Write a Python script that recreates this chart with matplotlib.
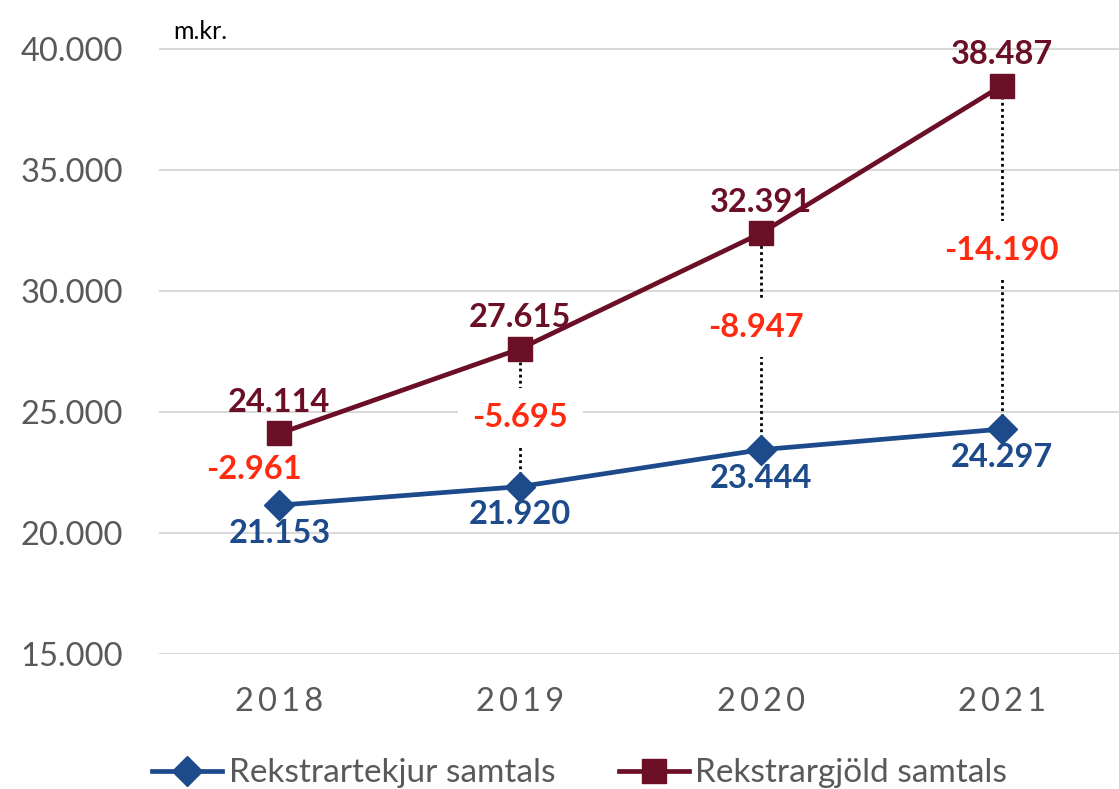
import matplotlib.pyplot as plt

years = ["2018", "2019", "2020", "2021"]
tekjur = [21153, 21920, 23444, 24297]
gjold = [24114, 27615, 32391, 38487]
mismunur = [-2961, -5695, -8947, -14190]

blue = "#1c4a8b"
maroon = "#6b0f27"
red = "#ff2a10"
gray = "#595959"

plt.rcParams["font.family"] = ["Lato", "DejaVu Sans"]


def fmt(v):
    return f"{v:,}".replace(",", ".")


fig = plt.figure(figsize=(11.19, 7.89), dpi=100)
ax = fig.add_axes([0.142, 0.171, 0.861, 0.829])
x = list(range(len(years)))

# dotted connectors between the two series
for i in x:
    ax.plot([i, i], [tekjur[i], gjold[i]], ls=(0, (1, 1.2)), color="black",
            lw=2, zorder=2)

ax.plot(x, tekjur, color=blue, lw=3.4, marker="D", ms=15, zorder=4,
        label="Rekstrartekjur samtals")
ax.plot(x, gjold, color=maroon, lw=3.4, marker="s", ms=17, zorder=4,
        label="Rekstrargjöld samtals")

for i in x:
    ax.annotate(fmt(gjold[i]), (i, gjold[i]), xytext=(0, 12),
                textcoords="offset points", ha="center", va="bottom",
                fontsize=23.5, fontweight="bold", color=maroon, zorder=5)
    ax.annotate(fmt(tekjur[i]), (i, tekjur[i]), xytext=(0, -10),
                textcoords="offset points", ha="center", va="top",
                fontsize=23.5, fontweight="bold", color=blue, zorder=5)

# difference labels sit on the connector, white box breaks the dotted line
diff_offsets = [(-18, 0), (0, 0), (-4, 10), (0, 5)]
for i in x:
    mid = (tekjur[i] + gjold[i]) / 2
    dx, dy = diff_offsets[i]
    ax.annotate(fmt(mismunur[i]), (i, mid), xytext=(dx, dy),
                textcoords="offset points", ha="center", va="center",
                fontsize=23.5, fontweight="bold", color=red, zorder=3,
                bbox=dict(boxstyle="square,pad=0.45", fc="white", ec="none"))

ax.set_xlim(-0.5, 3.5)
ax.set_ylim(15000, 42025)
ax.set_yticks([15000, 20000, 25000, 30000, 35000, 40000])
ax.set_yticklabels([fmt(v) for v in ax.get_yticks().astype(int)])
ax.set_xticks(x)
ax.set_xticklabels(["\u2009".join(y) for y in years])
ax.tick_params(axis="both", length=0, labelsize=23.5, labelcolor=gray)
ax.tick_params(axis="x", pad=24)
ax.tick_params(axis="y", pad=26)
ax.grid(axis="y", color="#d9d9d9", lw=1.5)
ax.set_axisbelow(True)
for s in ax.spines.values():
    s.set_visible(False)

ax.text(0.015, 40250, "m.kr.", fontsize=18, color="black", ha="left",
        va="bottom", transform=ax.get_yaxis_transform())

leg = fig.legend(loc="center left", bbox_to_anchor=(0.136, 0.02), ncol=2,
                 frameon=False, fontsize=24, handlelength=2.1,
                 handletextpad=0.2, columnspacing=1.9, labelcolor=gray,
                 borderpad=0, borderaxespad=0)

fig.savefig("out.png", dpi=100)
